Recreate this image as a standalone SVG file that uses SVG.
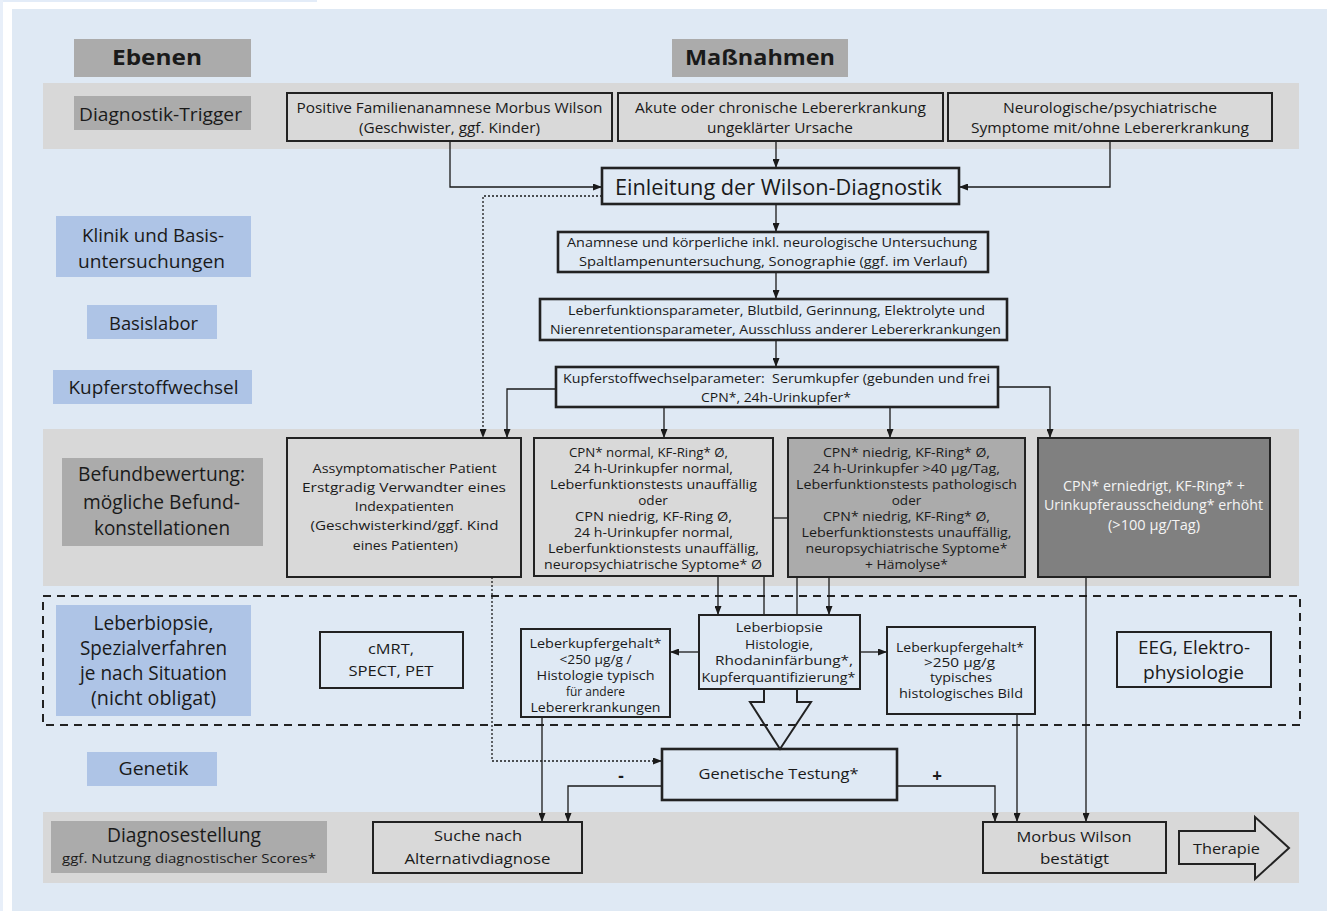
<svg xmlns="http://www.w3.org/2000/svg" width="1327" height="911" viewBox="0 0 1327 911">
<style>
text{font-family:"Open Sans","Noto Sans","DejaVu Sans",sans-serif;fill:#1a1a1a;text-anchor:middle}
.lbl{font-size:18.5px}
.big{font-size:20px}
.t15{font-size:14.5px}
.t14{font-size:13.5px}
.t13{font-size:13px}
.t12{font-size:12px}
.cond{font-size:15px}
.bold{font-weight:bold}
.band{fill:#d8d8d8}
.gl{fill:#ababab}
.bl{fill:#aec4e6}
.box{fill:#d9d9d9;stroke:#222;stroke-width:2}
.obox{fill:none;stroke:#222;stroke-width:2}
.tbox{fill:none;stroke:#222;stroke-width:2.6}
.c{fill:none;stroke:#1a1a1a;stroke-width:1.3}
.dot{stroke-dasharray:2 2}
</style>
<defs>
<marker id="ah" markerUnits="userSpaceOnUse" markerWidth="9" markerHeight="7" refX="9" refY="3.5" orient="auto">
<path d="M0,0 L9,3.5 L0,7 z" fill="#1a1a1a"/>
</marker>
</defs>
<rect width="1327" height="911" fill="#ffffff"/>
<rect x="0" y="0" width="317" height="2" fill="#e3ecf8"/>
<rect x="0" y="0" width="3" height="911" fill="#e8eff9"/>
<rect x="12" y="9" width="1315" height="902" fill="#dfe9f4"/>
<g id="bands">
<rect class="band" x="43" y="83" width="1256" height="66"/>
<rect class="band" x="43" y="429" width="1256" height="157"/>
<rect class="band" x="43" y="812" width="1256" height="71"/>
<rect x="43" y="596" width="1257" height="129" fill="none" stroke="#222" stroke-width="2" stroke-dasharray="8 6"/>
</g>
<g id="lbl-ebenen"><rect class="gl" x="74" y="39" width="177" height="38"/><text class="bold" x="157" y="65" font-size="22" textLength="90" lengthAdjust="spacingAndGlyphs">Ebenen</text></g>
<g id="lbl-massnahmen"><rect class="gl" x="672" y="39" width="176" height="38"/><text class="bold" x="760" y="65" font-size="22" textLength="150" lengthAdjust="spacingAndGlyphs">Maßnahmen</text></g>
<g id="lbl-trigger"><rect class="gl" x="74" y="96" width="177" height="34"/><text class="lbl" x="160.5" y="121" textLength="163" lengthAdjust="spacingAndGlyphs">Diagnostik-Trigger</text></g>
<g id="lbl-klinik"><rect class="bl" x="56" y="216" width="195" height="61"/><text class="lbl" x="153" y="242" textLength="142" lengthAdjust="spacingAndGlyphs">Klinik und Basis-</text><text class="lbl" x="151.5" y="268" textLength="147" lengthAdjust="spacingAndGlyphs">untersuchungen</text></g>
<g id="lbl-basislabor"><rect class="bl" x="87" y="305" width="130" height="34"/><text class="lbl" x="153.5" y="329.5" textLength="89" lengthAdjust="spacingAndGlyphs">Basislabor</text></g>
<g id="lbl-kupfer"><rect class="bl" x="53" y="370" width="199" height="34"/><text class="lbl" x="153.5" y="393.5" textLength="170" lengthAdjust="spacingAndGlyphs">Kupferstoffwechsel</text></g>
<g id="lbl-befund"><rect class="gl" x="62" y="458" width="201" height="88"/><text class="big" x="161.5" y="481" textLength="167" lengthAdjust="spacingAndGlyphs">Befundbewertung:</text><text class="big" x="161.5" y="509" textLength="157" lengthAdjust="spacingAndGlyphs">mögliche Befund-</text><text class="big" x="162" y="535" textLength="136" lengthAdjust="spacingAndGlyphs">konstellationen</text></g>
<g id="lbl-biopsie"><rect class="bl" x="56" y="605" width="195" height="111"/><text class="big" x="153.5" y="629.5" textLength="120" lengthAdjust="spacingAndGlyphs">Leberbiopsie,</text><text class="big" x="153.5" y="654.5" textLength="147" lengthAdjust="spacingAndGlyphs">Spezialverfahren</text><text class="big" x="153.5" y="679.5" textLength="147" lengthAdjust="spacingAndGlyphs">je nach Situation</text><text class="big" x="153.5" y="704.5" textLength="125" lengthAdjust="spacingAndGlyphs">(nicht obligat)</text></g>
<g id="lbl-genetik"><rect class="bl" x="87" y="752" width="130" height="34"/><text class="lbl" x="153.5" y="775" textLength="70" lengthAdjust="spacingAndGlyphs">Genetik</text></g>
<g id="lbl-diagnose"><rect class="gl" x="51" y="821" width="276" height="52"/><text class="big" x="184" y="842" textLength="154" lengthAdjust="spacingAndGlyphs">Diagnosestellung</text><text class="t13" x="189" y="862.5" textLength="254" lengthAdjust="spacingAndGlyphs">ggf. Nutzung diagnostischer Scores*</text></g>

<g id="connectors">
<path class="c" d="M450,141 V187 H602" marker-end="url(#ah)"/>
<path class="c" d="M776,141 V168" marker-end="url(#ah)"/>
<path class="c" d="M1110,141 V187 H959" marker-end="url(#ah)"/>
<path class="c dot" d="M602,196 H483 V438" marker-end="url(#ah)"/>
<path class="c" d="M776,204 V232" marker-end="url(#ah)"/>
<path class="c" d="M776,272 V299" marker-end="url(#ah)"/>
<path class="c" d="M776,340 V367" marker-end="url(#ah)"/>
<path class="c" d="M556,389 H507 V438" marker-end="url(#ah)"/>
<path class="c" d="M664,407 V438" marker-end="url(#ah)"/>
<path class="c" d="M890,407 V438" marker-end="url(#ah)"/>
<path class="c" d="M998,387 H1050 V438" marker-end="url(#ah)"/>
<path class="c" d="M773,518 H788"/>
<path class="c" d="M718,577 V615" marker-end="url(#ah)"/>
<path class="c" d="M829,577 V615" marker-end="url(#ah)"/>
<path class="c" d="M764,577 V615 M797,577 V615"/>
<path d="M764,689 V702 H750 L780,749 L811,702 H797 V689" fill="none" stroke="#222" stroke-width="2"/>
<path class="c" d="M699,652 H670" marker-end="url(#ah)"/>
<path class="c" d="M860,652 H887" marker-end="url(#ah)"/>
<path class="c dot" d="M492,577 V761 H662" marker-end="url(#ah)"/>
<path class="c" d="M542,717 V822" marker-end="url(#ah)"/>
<path class="c" d="M662,786 H568 V822" marker-end="url(#ah)"/>
<path class="c" d="M897,786 H995 V822" marker-end="url(#ah)"/>
<path class="c" d="M1017,714 V822" marker-end="url(#ah)"/>
<path class="c" d="M1086,577 V822" marker-end="url(#ah)"/>
<text class="bold" x="621" y="782" font-size="17">-</text>
<text class="bold" x="937" y="782" font-size="17">+</text>
</g>

<g id="n-familie"><rect class="box" x="287" y="93" width="325" height="48"/><text class="t15" x="449.5" y="113" textLength="306" lengthAdjust="spacingAndGlyphs">Positive Familienanamnese Morbus Wilson</text><text class="t15" x="449.5" y="133" textLength="181" lengthAdjust="spacingAndGlyphs">(Geschwister, ggf. Kinder)</text></g>
<g id="n-akut"><rect class="box" x="618" y="93" width="325" height="48"/><text class="t15" x="780.5" y="113" textLength="291" lengthAdjust="spacingAndGlyphs">Akute oder chronische Lebererkrankung</text><text class="t15" x="780" y="133" textLength="146" lengthAdjust="spacingAndGlyphs">ungeklärter Ursache</text></g>
<g id="n-neuro"><rect class="box" x="948" y="93" width="324" height="48"/><text class="t15" x="1110" y="113" textLength="214" lengthAdjust="spacingAndGlyphs">Neurologische/psychiatrische</text><text class="t15" x="1110" y="133" textLength="278" lengthAdjust="spacingAndGlyphs">Symptome mit/ohne Lebererkrankung</text></g>
<g id="n-einleitung"><rect class="tbox" x="602" y="168" width="357" height="36"/><text x="778.5" y="195" font-size="21" textLength="327" lengthAdjust="spacingAndGlyphs">Einleitung der Wilson-Diagnostik</text></g>
<g id="n-anamnese"><rect class="tbox" x="558" y="232" width="430" height="40"/><text class="t14" x="772" y="247" textLength="410" lengthAdjust="spacingAndGlyphs">Anamnese und körperliche inkl. neurologische Untersuchung</text><text class="t14" x="773" y="266" textLength="388" lengthAdjust="spacingAndGlyphs">Spaltlampenuntersuchung, Sonographie (ggf. im Verlauf)</text></g>
<g id="n-basislabor"><rect class="tbox" x="540" y="299" width="467" height="41"/><text class="t14" x="776.5" y="315" textLength="417" lengthAdjust="spacingAndGlyphs">Leberfunktionsparameter, Blutbild, Gerinnung, Elektrolyte und</text><text class="t14" x="775.5" y="334" textLength="451" lengthAdjust="spacingAndGlyphs">Nierenretentionsparameter, Ausschluss anderer Lebererkrankungen</text></g>
<g id="n-kupfer"><rect class="tbox" x="556" y="367" width="442" height="40"/><text class="t14" x="776.5" y="383" textLength="427" lengthAdjust="spacingAndGlyphs" xml:space="preserve">Kupferstoffwechselparameter:  Serumkupfer (gebunden und frei</text><text class="t14" x="776" y="402" textLength="150" lengthAdjust="spacingAndGlyphs">CPN*, 24h-Urinkupfer*</text></g>

<g id="n-assym"><rect class="box" x="287" y="438" width="234" height="139"/><text class="t14" x="404.6" y="473" textLength="184" lengthAdjust="spacingAndGlyphs">Assymptomatischer Patient</text><text class="t14" x="404" y="492" textLength="204" lengthAdjust="spacingAndGlyphs">Erstgradig Verwandter eines</text><text class="t14" x="404.3" y="511" textLength="99" lengthAdjust="spacingAndGlyphs">Indexpatienten</text><text class="t14" x="404.6" y="530" textLength="188" lengthAdjust="spacingAndGlyphs">(Geschwisterkind/ggf. Kind</text><text class="t14" x="405.3" y="550" textLength="105" lengthAdjust="spacingAndGlyphs">eines Patienten)</text></g>
<g id="n-normal"><rect class="box" x="534" y="438" width="239" height="138"/>
<text class="t14" x="648.5" y="457" textLength="159" lengthAdjust="spacingAndGlyphs">CPN* normal, KF-Ring* Ø,</text>
<text class="t14" x="653.5" y="473" textLength="159" lengthAdjust="spacingAndGlyphs">24 h-Urinkupfer normal,</text>
<text class="t14" x="653.5" y="489" textLength="207" lengthAdjust="spacingAndGlyphs">Leberfunktionstests unauffällig</text>
<text class="t14" x="653" y="505">oder</text>
<text class="t14" x="653.5" y="521" textLength="157" lengthAdjust="spacingAndGlyphs">CPN niedrig, KF-Ring Ø,</text>
<text class="t14" x="653.5" y="537" textLength="159" lengthAdjust="spacingAndGlyphs">24 h-Urinkupfer normal,</text>
<text class="t14" x="653.5" y="553" textLength="211" lengthAdjust="spacingAndGlyphs">Leberfunktionstests unauffällig,</text>
<text class="t14" x="653" y="569" textLength="218" lengthAdjust="spacingAndGlyphs">neuropsychiatrische Syptome* Ø</text></g>
<g id="n-niedrig"><rect x="788" y="438" width="237" height="139" fill="#ababab" stroke="#222" stroke-width="2"/>
<text class="t14" x="906.5" y="457" textLength="167" lengthAdjust="spacingAndGlyphs">CPN* niedrig, KF-Ring* Ø,</text>
<text class="t14" x="906.5" y="473" textLength="187" lengthAdjust="spacingAndGlyphs">24 h-Urinkupfer &gt;40 µg/Tag,</text>
<text class="t14" x="906.5" y="489" textLength="221" lengthAdjust="spacingAndGlyphs">Leberfunktionstests pathologisch</text>
<text class="t14" x="906.5" y="505">oder</text>
<text class="t14" x="906.5" y="521" textLength="167" lengthAdjust="spacingAndGlyphs">CPN* niedrig, KF-Ring* Ø,</text>
<text class="t14" x="906.5" y="537" textLength="210" lengthAdjust="spacingAndGlyphs">Leberfunktionstests unauffällig,</text>
<text class="t14" x="906.5" y="553" textLength="202" lengthAdjust="spacingAndGlyphs">neuropsychiatrische Syptome*</text>
<text class="t14" x="906.5" y="569" textLength="83" lengthAdjust="spacingAndGlyphs">+ Hämolyse*</text></g>
<g id="n-erhoeht"><rect x="1038" y="438" width="232" height="139" fill="#808080" stroke="#222" stroke-width="2"/>
<text class="t15" x="1154" y="491" style="fill:#f4f4f4" textLength="182" lengthAdjust="spacingAndGlyphs">CPN* erniedrigt, KF-Ring* +</text>
<text class="t15" x="1153.5" y="510" style="fill:#f4f4f4" textLength="219" lengthAdjust="spacingAndGlyphs">Urinkupferausscheidung* erhöht</text>
<text class="t15" x="1154" y="530" style="fill:#f4f4f4" textLength="92" lengthAdjust="spacingAndGlyphs">(&gt;100 µg/Tag)</text></g>

<g id="n-cmrt"><rect class="obox" x="320" y="632" width="143" height="56"/><text class="cond" x="391" y="653.5" textLength="46" lengthAdjust="spacingAndGlyphs">cMRT,</text><text class="cond" x="391" y="675.5" textLength="85" lengthAdjust="spacingAndGlyphs">SPECT, PET</text></g>
<g id="n-lk-niedrig"><rect class="obox" x="521" y="629" width="149" height="88"/>
<text class="t12" x="595.5" y="648" textLength="132" lengthAdjust="spacingAndGlyphs">Leberkupfergehalt*</text>
<text class="t12" x="595.5" y="664" textLength="72" lengthAdjust="spacingAndGlyphs">&lt;250 µg/g /</text>
<text class="t12" x="595.5" y="680" textLength="118" lengthAdjust="spacingAndGlyphs">Histologie typisch</text>
<text class="t12" x="595.5" y="696" textLength="59" lengthAdjust="spacingAndGlyphs">für andere</text>
<text class="t12" x="595.5" y="712" textLength="130" lengthAdjust="spacingAndGlyphs">Lebererkrankungen</text></g>
<g id="n-biopsie"><rect class="obox" x="699" y="615" width="161" height="74" style="fill:#dfe9f4"/>
<text class="t14" x="779.3" y="632" textLength="87" lengthAdjust="spacingAndGlyphs">Leberbiopsie</text>
<text class="t14" x="779" y="648.5" textLength="68" lengthAdjust="spacingAndGlyphs">Histologie,</text>
<text class="t14" x="784" y="665" textLength="138" lengthAdjust="spacingAndGlyphs">Rhodaninfärbung*,</text>
<text class="t14" x="778.5" y="681.5" textLength="154" lengthAdjust="spacingAndGlyphs">Kupferquantifizierung*</text></g>
<g id="n-lk-hoch"><rect class="obox" x="887" y="627" width="148" height="87"/>
<text class="t12" x="960" y="652" textLength="128" lengthAdjust="spacingAndGlyphs">Leberkupfergehalt*</text>
<text class="t12" x="959.5" y="667" textLength="71" lengthAdjust="spacingAndGlyphs">&gt;250 µg/g</text>
<text class="t12" x="961" y="682" textLength="62" lengthAdjust="spacingAndGlyphs">typisches</text>
<text class="t12" x="961" y="698" textLength="124" lengthAdjust="spacingAndGlyphs">histologisches Bild</text></g>
<g id="n-eeg"><rect class="obox" x="1117" y="632" width="154" height="55"/><text x="1194" y="654" font-size="19" textLength="112" lengthAdjust="spacingAndGlyphs">EEG, Elektro-</text><text x="1193.5" y="679" font-size="19" textLength="101" lengthAdjust="spacingAndGlyphs">physiologie</text></g>
<g id="n-genetisch"><rect class="tbox" x="662" y="749" width="235" height="51"/><text class="cond" x="778.5" y="779" font-size="16" textLength="160" lengthAdjust="spacingAndGlyphs">Genetische Testung*</text></g>
<g id="n-suche"><rect class="box" x="373" y="822" width="209" height="51"/><text class="cond" x="478" y="841" font-size="16" textLength="88" lengthAdjust="spacingAndGlyphs">Suche nach</text><text class="cond" x="477.5" y="864" font-size="16" textLength="146" lengthAdjust="spacingAndGlyphs">Alternativdiagnose</text></g>
<g id="n-morbus"><rect class="box" x="983" y="822" width="183" height="51"/><text class="cond" x="1074" y="842" font-size="16" textLength="115" lengthAdjust="spacingAndGlyphs">Morbus Wilson</text><text class="cond" x="1074.5" y="864" font-size="16" textLength="69" lengthAdjust="spacingAndGlyphs">bestätigt</text></g>
<g id="n-therapie"><polygon points="1179,831 1255,831 1255,817 1289,848 1255,879 1255,864 1179,864" fill="#d9d9d9" stroke="#222" stroke-width="2"/><text class="cond" x="1226.5" y="854" font-size="16" textLength="67" lengthAdjust="spacingAndGlyphs">Therapie</text></g>
</svg>
